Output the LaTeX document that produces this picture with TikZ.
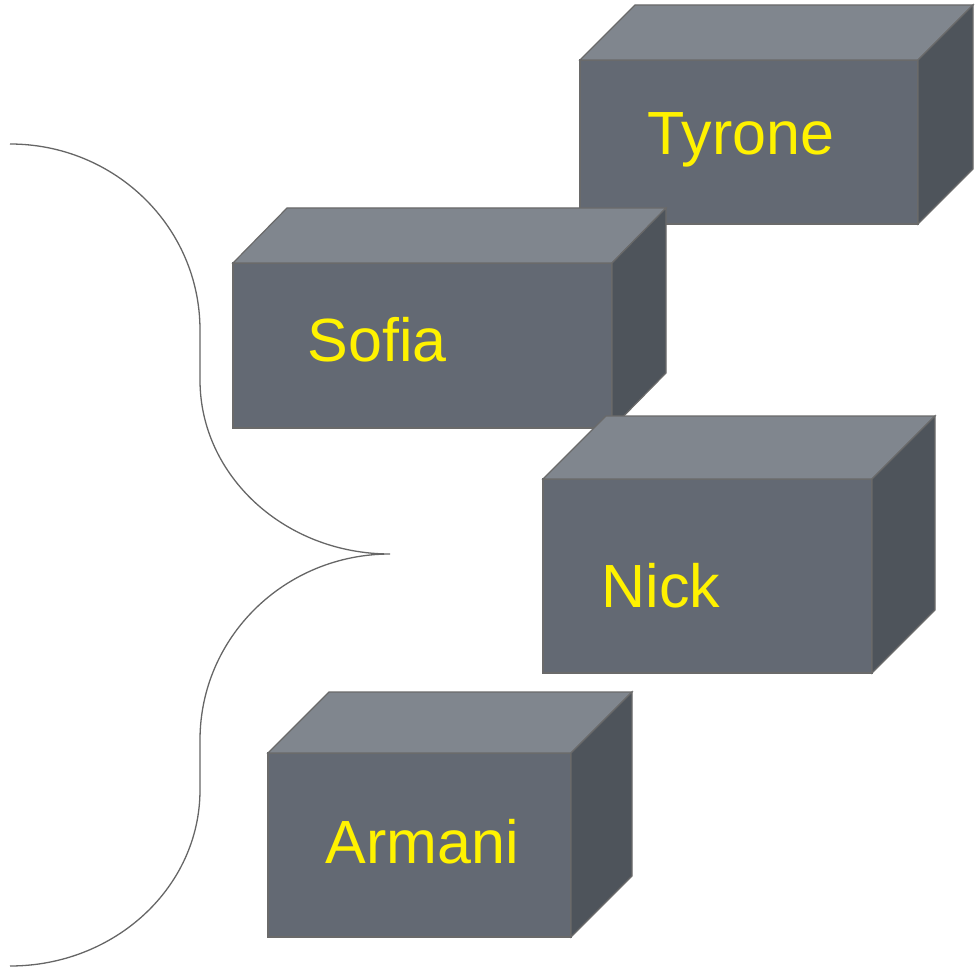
\documentclass[tikz,border=0pt]{standalone}
\usepackage{fontspec}
\setmainfont{Liberation Sans}
\definecolor{frontc}{HTML}{636973}
\definecolor{topc}{HTML}{80868E}
\definecolor{sidec}{HTML}{4E545B}
\definecolor{edgec}{HTML}{6A6A6A}
\definecolor{bracec}{HTML}{666666}
\tikzset{
  face/.style={draw=edgec, line width=1.2pt, line join=miter},
  label/.style={text=yellow, font=\fontsize{61}{70}\selectfont, inner sep=0pt, anchor=base},
  bracestyle/.style={draw=bracec, line width=1.3pt}
}
% #1,#2 front top-left; #3,#4 front bottom-right; #5,#6 depth offset
\newcommand\cuboidbox[6]{%
  \filldraw[face, fill=frontc] (#1,#2) rectangle (#3,#4);
  \filldraw[face, fill=topc] (#1,#2) -- ({#1+#5},{#2-#6}) -- ({#3+#5},{#2-#6}) -- (#3,#2) -- cycle;
  \filldraw[face, fill=sidec] (#3,#2) -- ({#3+#5},{#2-#6}) -- ({#3+#5},{#4-#6}) -- (#3,#4) -- cycle;
}
\begin{document}
\begin{tikzpicture}[x=1pt,y=-1pt]
\useasboundingbox (0,0) rectangle (975,968);
% brace
\coordinate (bstart) at (10,144);
\coordinate (bup1) at (200,330);
\coordinate (bup2) at (200,380);
\coordinate (btip) at (390,554);
\coordinate (blo1) at (200,740);
\coordinate (blo2) at (200,790);
\coordinate (bend) at (10,966);
\draw[bracestyle] (bstart) .. controls (115,144) and (200,227) .. (bup1)
  -- (bup2) .. controls (200,476) and (285,554) .. (btip)
  .. controls (285,554) and (200,637) .. (blo1)
  -- (blo2) .. controls (200,887) and (115,966) .. (bend);
% boxes
\cuboidbox{580}{60}{918}{224}{55}{55}
\node[label] (tyrone) at (741,155) {Tyrone};
\cuboidbox{233}{263}{612}{428}{54}{55}
\node[label] (sofia) at (377,362) {Sofia};
\cuboidbox{543}{479}{872}{673}{63}{63}
\node[label] (nick) at (661,607) {Nick};
\cuboidbox{268}{753}{571}{937}{61}{61}
\node[label] (armani) at (422,863) {Armani};
\end{tikzpicture}
\end{document}
